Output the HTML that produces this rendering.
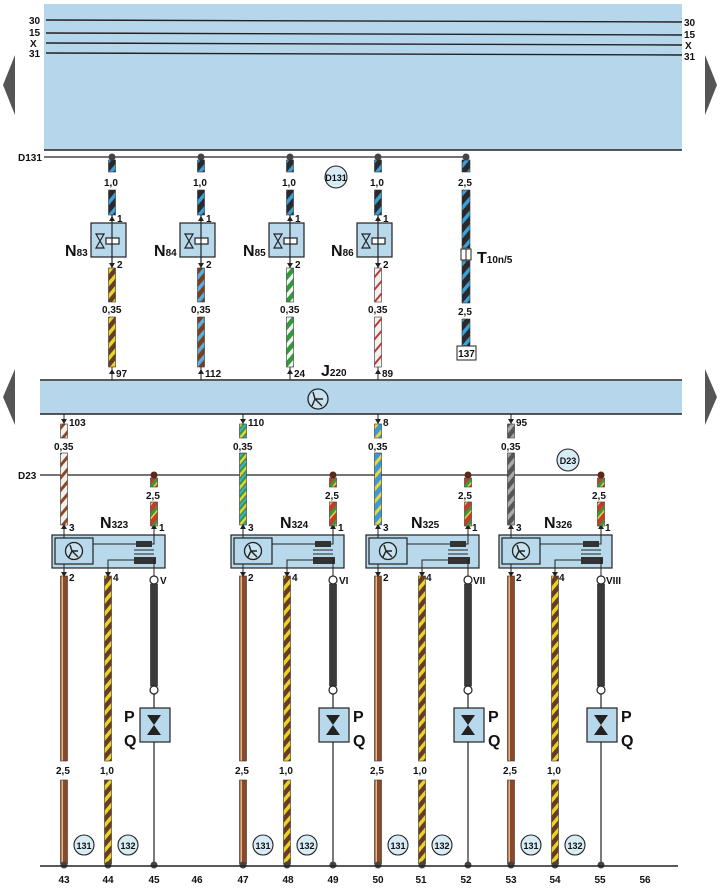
<!DOCTYPE html>
<html><head><meta charset="utf-8"><style>
html,body{margin:0;padding:0;background:#fff;}
svg{display:block;font-family:"Liberation Sans",Arial,sans-serif;font-weight:bold;}
.t{font-size:10px;fill:#111;}
.n{font-size:16px;fill:#111;}
.s{font-size:10px;}
</style></head><body>
<svg width="720" height="889" viewBox="0 0 720 889" xmlns="http://www.w3.org/2000/svg">
<defs>
<pattern id="bb" width="9" height="9" patternUnits="userSpaceOnUse" patternTransform="rotate(40)"><rect width="9" height="9" fill="#2a2a2e"/><rect width="3.5" height="9" fill="#3aa0d8"/></pattern>
<pattern id="by" width="8" height="8" patternUnits="userSpaceOnUse" patternTransform="rotate(40)"><rect width="8" height="8" fill="#6a3a22"/><rect width="3.5" height="8" fill="#e8d428"/></pattern>
<pattern id="bbl" width="8" height="8" patternUnits="userSpaceOnUse" patternTransform="rotate(40)"><rect width="8" height="8" fill="#7a3e22"/><rect width="3.5" height="8" fill="#58b0e0"/></pattern>
<pattern id="gw" width="8" height="8" patternUnits="userSpaceOnUse" patternTransform="rotate(40)"><rect width="8" height="8" fill="#2f9a3a"/><rect width="3.5" height="8" fill="#f4f4f4"/></pattern>
<pattern id="wr" width="8" height="8" patternUnits="userSpaceOnUse" patternTransform="rotate(40)"><rect width="8" height="8" fill="#f4f0ee"/><rect width="2" height="8" fill="#c03838"/></pattern>
<pattern id="wbr" width="8" height="8" patternUnits="userSpaceOnUse" patternTransform="rotate(40)"><rect width="8" height="8" fill="#f2f0ea"/><rect width="3" height="8" fill="#8a4a28"/></pattern>
<pattern id="gy" width="8" height="8" patternUnits="userSpaceOnUse" patternTransform="rotate(40)"><rect width="8" height="8" fill="#2f9a3a"/><rect width="2.5" height="8" fill="#e0d43a"/><rect x="4" width="2" height="8" fill="#4aa8d8"/></pattern>
<pattern id="bly" width="8" height="8" patternUnits="userSpaceOnUse" patternTransform="rotate(40)"><rect width="8" height="8" fill="#3a9ad8"/><rect width="3" height="8" fill="#e8d83a"/></pattern>
<pattern id="gr" width="8" height="8" patternUnits="userSpaceOnUse" patternTransform="rotate(40)"><rect width="8" height="8" fill="#555"/><rect width="3.5" height="8" fill="#aaa"/></pattern>
<pattern id="rg" width="9" height="9" patternUnits="userSpaceOnUse" patternTransform="rotate(40)"><rect width="9" height="9" fill="#c83a2a"/><rect width="3" height="9" fill="#3a9a3a"/><rect x="3" width="1.5" height="9" fill="#e8d43a"/></pattern>
<pattern id="brn" width="7" height="10" patternUnits="userSpaceOnUse"><rect width="7" height="10" fill="#8a4a2a"/><rect x="4.5" width="1.5" height="10" fill="#e8b888"/></pattern>
<g id="mod">
 <rect x="-12" y="535" width="113" height="33" fill="#b8d9ec" stroke="#222" stroke-width="1.2"/>
 <rect x="-9" y="538" width="38" height="26" fill="#b8d9ec" stroke="#222" stroke-width="1.2"/>
 <circle cx="10" cy="551" r="8.5" fill="#c8e2f0" stroke="#222" stroke-width="1.3"/>
 <path d="M6 545 L8 551 L14 551 M8 551 L5 557 M8 551 L14 557" stroke="#222" stroke-width="1.4" fill="none"/>
 <line x1="0" y1="535" x2="0" y2="538" stroke="#222"/>
 <line x1="0" y1="564" x2="0" y2="568" stroke="#222"/>
 <polyline points="29,544 72,544" fill="none" stroke="#222"/>
 <rect x="72" y="541" width="16" height="6" fill="#333"/>
 <polyline points="88,544 90,544 90,535" fill="none" stroke="#222"/>
 <line x1="70" y1="550" x2="90" y2="550" stroke="#222"/>
 <line x1="70" y1="554" x2="90" y2="554" stroke="#222"/>
 <rect x="70" y="557" width="22" height="7" fill="#333"/>
 <polyline points="44,568 44,560 70,560" fill="none" stroke="#222"/>
 <polyline points="92,560 90,560 90,568" fill="none" stroke="#222"/>
 <line x1="0" y1="568" x2="0" y2="576" stroke="#222"/>
 <path d="M-3 572 L0 577 L3 572Z" fill="#222"/>
 <rect x="-3.5" y="576" width="7" height="185" fill="url(#brn)" stroke="#333" stroke-width="0.6"/>
 <rect x="-3.5" y="780" width="7" height="84" fill="url(#brn)" stroke="#333" stroke-width="0.6"/>
 <circle cx="0" cy="865" r="3.5" fill="#444"/>
 <line x1="44" y1="568" x2="44" y2="576" stroke="#222"/>
 <path d="M41 572 L44 577 L47 572Z" fill="#222"/>
 <rect x="40.5" y="576" width="7" height="185" fill="url(#by)" stroke="#333" stroke-width="0.6"/>
 <rect x="40.5" y="780" width="7" height="84" fill="url(#by)" stroke="#333" stroke-width="0.6"/>
 <circle cx="44" cy="865" r="3.5" fill="#444"/>
 <line x1="90" y1="568" x2="90" y2="576" stroke="#222"/>
 <circle cx="90" cy="580" r="4" fill="#fff" stroke="#222" stroke-width="1.2"/>
 <rect x="86.5" y="584" width="7" height="102" fill="#3a3a3a" stroke="#222" stroke-width="0.6"/>
 <circle cx="90" cy="690" r="4" fill="#fff" stroke="#222" stroke-width="1.2"/>
 <line x1="90" y1="694" x2="90" y2="865" stroke="#222" stroke-width="1.2"/>
 <rect x="76" y="708" width="30" height="34" fill="#b8d9ec" stroke="#222" stroke-width="1.2"/>
 <path d="M83 715 L97 715 L90 725Z M83 735 L97 735 L90 725Z" fill="#222"/>
 <circle cx="90" cy="865" r="3.5" fill="#444"/>
 <circle cx="20" cy="845" r="10" fill="#d8ecf6" stroke="#222" stroke-width="1.1"/>
 <circle cx="64" cy="845" r="10" fill="#d8ecf6" stroke="#222" stroke-width="1.1"/>
 <line x1="0" y1="414" x2="0" y2="424" stroke="#222"/>
 <path d="M-3 419 L0 424 L3 419Z" fill="#222"/>
 <line x1="0" y1="528" x2="0" y2="535" stroke="#222"/>
 <path d="M-3 529 L0 524 L3 529Z" fill="#222"/>
 <circle cx="90" cy="475" r="3.5" fill="#5a2a1a"/>
 <line x1="90" y1="528" x2="90" y2="535" stroke="#222"/>
 <path d="M87 529 L90 524 L93 529Z" fill="#222"/>
 <rect x="86.5" y="478" width="7" height="9" fill="url(#rg)" stroke="#333" stroke-width="0.6"/>
 <rect x="86.5" y="502" width="7" height="24" fill="url(#rg)" stroke="#333" stroke-width="0.6"/>
</g>
<g id="valve">
 <rect x="-21" y="223" width="35" height="34" fill="#b8d9ec" stroke="#222" stroke-width="1.2"/>
 <path d="M-16 234 L-8 234 L-16 248 L-8 248 Z" fill="none" stroke="#222" stroke-width="1.2"/>
 <rect x="-6" y="238" width="13" height="6" fill="#fff" stroke="#222" stroke-width="1.2"/>
 <line x1="0" y1="215" x2="0" y2="268" stroke="#222" stroke-width="1.2"/>
 <path d="M-3 221 L0 216 L3 221Z" fill="#222"/>
 <path d="M-3 263 L0 268 L3 263Z" fill="#222"/>
 <circle cx="0" cy="157" r="3.5" fill="#444"/>
 <rect x="-3.5" y="160" width="7" height="12" fill="url(#bb)" stroke="#333" stroke-width="0.6"/>
 <rect x="-3.5" y="190" width="7" height="25" fill="url(#bb)" stroke="#333" stroke-width="0.6"/>
 <line x1="0" y1="367" x2="0" y2="380" stroke="#222"/>
 <path d="M-3 374 L0 369 L3 374Z" fill="#222"/>
</g>
</defs>

<rect x="44" y="4" width="638" height="146" fill="#b6d7eb"/>
<line x1="44" y1="150" x2="682" y2="150" stroke="#222" stroke-width="1.4"/>
<line x1="46" y1="20" x2="682" y2="22" stroke="#222" stroke-width="1.4"/>
<line x1="46" y1="33" x2="682" y2="35" stroke="#222" stroke-width="1.4"/>
<line x1="46" y1="43" x2="682" y2="45" stroke="#222" stroke-width="1.4"/>
<line x1="46" y1="53" x2="682" y2="55" stroke="#222" stroke-width="1.4"/>
<text x="29" y="24" class="t">30</text><text x="29" y="36" class="t">15</text><text x="30" y="47" class="t">X</text><text x="29" y="57" class="t">31</text>
<text x="684" y="26" class="t">30</text><text x="684" y="38" class="t">15</text><text x="685" y="49" class="t">X</text><text x="684" y="60" class="t">31</text>

<path d="M3 85 L15 55 L15 115Z" fill="#555"/>
<path d="M3 397 L15 369 L15 425Z" fill="#555"/>
<path d="M717 85 L705 55 L705 115Z" fill="#555"/>
<path d="M717 397 L705 369 L705 425Z" fill="#555"/>

<line x1="44" y1="157" x2="466" y2="157" stroke="#222" stroke-width="1.2"/>
<text x="18" y="161" class="t">D131</text>
<circle cx="336" cy="177" r="11" fill="#d8ecf6" stroke="#222" stroke-width="1.1"/>
<text x="336" y="181" class="t" text-anchor="middle" style="font-size:9px">D131</text>

<use href="#valve" x="112"/><use href="#valve" x="201"/><use href="#valve" x="290"/><use href="#valve" x="378"/>
<g class="t">
<text x="104" y="186">1,0</text><text x="193" y="186">1,0</text><text x="282" y="186">1,0</text><text x="370" y="186">1,0</text>
<text x="117" y="222">1</text><text x="206" y="222">1</text><text x="295" y="222">1</text><text x="383" y="222">1</text>
<text x="117" y="268">2</text><text x="206" y="268">2</text><text x="295" y="268">2</text><text x="383" y="268">2</text>
<text x="102" y="313">0,35</text><text x="191" y="313">0,35</text><text x="280" y="313">0,35</text><text x="368" y="313">0,35</text>
<text x="116" y="377">97</text><text x="205" y="377">112</text><text x="294" y="377">24</text><text x="382" y="377">89</text>
</g>
<rect x="108.5" y="268" width="7" height="34" fill="url(#by)" stroke="#333" stroke-width="0.6"/>
<rect x="108.5" y="317" width="7" height="50" fill="url(#by)" stroke="#333" stroke-width="0.6"/>
<rect x="197.5" y="268" width="7" height="34" fill="url(#bbl)" stroke="#333" stroke-width="0.6"/>
<rect x="197.5" y="317" width="7" height="50" fill="url(#bbl)" stroke="#333" stroke-width="0.6"/>
<rect x="286.5" y="268" width="7" height="34" fill="url(#gw)" stroke="#333" stroke-width="0.6"/>
<rect x="286.5" y="317" width="7" height="50" fill="url(#gw)" stroke="#333" stroke-width="0.6"/>
<rect x="374.5" y="268" width="7" height="34" fill="url(#wr)" stroke="#333" stroke-width="0.6"/>
<rect x="374.5" y="317" width="7" height="50" fill="url(#wr)" stroke="#333" stroke-width="0.6"/>
<text x="65" y="256" class="n">N<tspan class="s">83</tspan></text>
<text x="154" y="256" class="n">N<tspan class="s">84</tspan></text>
<text x="243" y="256" class="n">N<tspan class="s">85</tspan></text>
<text x="331" y="256" class="n">N<tspan class="s">86</tspan></text>

<circle cx="466" cy="157" r="3.5" fill="#444"/>
<rect x="462" y="160" width="8" height="12" fill="url(#bb)" stroke="#333" stroke-width="0.6"/>
<text x="458" y="186" class="t">2,5</text>
<rect x="462" y="190" width="8" height="58" fill="url(#bb)" stroke="#333" stroke-width="0.6"/>
<rect x="461" y="249" width="10" height="11" fill="#fff" stroke="#222"/>
<line x1="466" y1="249" x2="466" y2="260" stroke="#222"/>
<rect x="462" y="261" width="8" height="42" fill="url(#bb)" stroke="#333" stroke-width="0.6"/>
<text x="458" y="315" class="t">2,5</text>
<rect x="462" y="319" width="8" height="27" fill="url(#bb)" stroke="#333" stroke-width="0.6"/>
<rect x="457" y="346" width="19" height="14" fill="#fff" stroke="#222"/>
<text x="466.5" y="357" class="t" text-anchor="middle">137</text>
<text x="477" y="263" class="n">T<tspan class="s">10n/5</tspan></text>

<rect x="40" y="381" width="642" height="33" fill="#b6d7eb"/>
<line x1="40" y1="380" x2="682" y2="380" stroke="#222" stroke-width="1.4"/>
<line x1="40" y1="414" x2="682" y2="414" stroke="#222" stroke-width="1.4"/>
<circle cx="318" cy="399" r="10" fill="#c8e2f0" stroke="#222" stroke-width="1.3"/>
<path d="M313 392 L315 399 L323 399 M315 399 L312 406 M315 399 L322 406" stroke="#222" stroke-width="1.4" fill="none"/>
<text x="321" y="376" class="n">J<tspan class="s">220</tspan></text>

<line x1="40" y1="475" x2="600" y2="475" stroke="#222" stroke-width="1.2"/>
<text x="18" y="479" class="t">D23</text>
<circle cx="568" cy="460" r="11" fill="#d8ecf6" stroke="#222" stroke-width="1.1"/>
<text x="568" y="464" class="t" text-anchor="middle" style="font-size:9px">D23</text>

<use href="#mod" x="64"/><use href="#mod" x="243"/><use href="#mod" x="378"/><use href="#mod" x="511"/>
<rect x="60.5" y="424" width="7" height="14" fill="url(#wbr)" stroke="#333" stroke-width="0.6"/>
<rect x="60.5" y="453" width="7" height="72" fill="url(#wbr)" stroke="#333" stroke-width="0.6"/>
<rect x="239.5" y="424" width="7" height="14" fill="url(#gy)" stroke="#333" stroke-width="0.6"/>
<rect x="239.5" y="453" width="7" height="72" fill="url(#gy)" stroke="#333" stroke-width="0.6"/>
<rect x="374.5" y="424" width="7" height="14" fill="url(#bly)" stroke="#333" stroke-width="0.6"/>
<rect x="374.5" y="453" width="7" height="72" fill="url(#bly)" stroke="#333" stroke-width="0.6"/>
<rect x="507.5" y="424" width="7" height="14" fill="url(#gr)" stroke="#333" stroke-width="0.6"/>
<rect x="507.5" y="453" width="7" height="72" fill="url(#gr)" stroke="#333" stroke-width="0.6"/>

<g class="t">
<text x="69" y="426">103</text><text x="248" y="426">110</text><text x="383" y="426">8</text><text x="516" y="426">95</text>
<text x="54" y="450">0,35</text><text x="233" y="450">0,35</text><text x="368" y="450">0,35</text><text x="501" y="450">0,35</text>
<text x="146" y="499">2,5</text><text x="325" y="499">2,5</text><text x="458" y="499">2,5</text><text x="592" y="499">2,5</text>
<text x="69" y="531">3</text><text x="248" y="531">3</text><text x="383" y="531">3</text><text x="516" y="531">3</text>
<text x="159" y="531">1</text><text x="338" y="531">1</text><text x="472" y="531">1</text><text x="605" y="531">1</text>
<text x="69" y="581">2</text><text x="248" y="581">2</text><text x="383" y="581">2</text><text x="516" y="581">2</text>
<text x="113" y="581">4</text><text x="292" y="581">4</text><text x="426" y="581">4</text><text x="559" y="581">4</text>
<text x="160" y="584">V</text><text x="339" y="584">VI</text><text x="473" y="584">VII</text><text x="606" y="584">VIII</text>
<text x="56" y="774">2,5</text><text x="100" y="774">1,0</text>
<text x="235" y="774">2,5</text><text x="279" y="774">1,0</text>
<text x="370" y="774">2,5</text><text x="413" y="774">1,0</text>
<text x="503" y="774">2,5</text><text x="547" y="774">1,0</text>
</g>
<text x="100" y="528" class="n">N<tspan class="s">323</tspan></text>
<text x="280" y="528" class="n">N<tspan class="s">324</tspan></text>
<text x="411" y="528" class="n">N<tspan class="s">325</tspan></text>
<text x="544" y="528" class="n">N<tspan class="s">326</tspan></text>

<g class="n">
<text x="124" y="722">P</text><text x="124" y="746">Q</text>
<text x="353" y="722">P</text><text x="353" y="746">Q</text>
<text x="488" y="722">P</text><text x="488" y="746">Q</text>
<text x="621" y="722">P</text><text x="621" y="746">Q</text>
</g>

<g class="t" text-anchor="middle" style="font-size:9px">
<text x="84" y="849">131</text><text x="128" y="849">132</text>
<text x="263" y="849">131</text><text x="307" y="849">132</text>
<text x="398" y="849">131</text><text x="442" y="849">132</text>
<text x="531" y="849">131</text><text x="575" y="849">132</text>
</g>

<line x1="40" y1="866" x2="678" y2="866" stroke="#222" stroke-width="1.4"/>
<g class="t" text-anchor="middle">
<text x="64" y="883">43</text><text x="108" y="883">44</text><text x="154" y="883">45</text><text x="197" y="883">46</text>
<text x="243" y="883">47</text><text x="288" y="883">48</text><text x="333" y="883">49</text><text x="378" y="883">50</text>
<text x="421" y="883">51</text><text x="466" y="883">52</text><text x="511" y="883">53</text><text x="555" y="883">54</text>
<text x="600" y="883">55</text><text x="645" y="883">56</text>
</g>
</svg>
</body></html>
